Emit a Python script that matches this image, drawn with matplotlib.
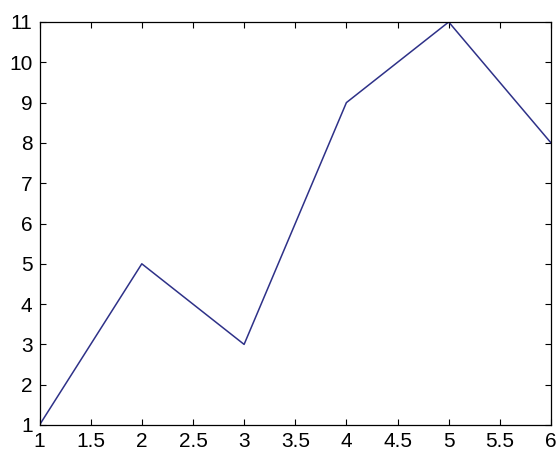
import matplotlib
matplotlib.use("Agg")
import matplotlib.pyplot as plt

x = [1, 2, 3, 4, 5, 6]
y = [1, 5, 3, 9, 11, 8]
xticks = [1, 1.5, 2, 2.5, 3, 3.5, 4, 4.5, 5, 5.5, 6]
xticklabels = ["1", "1.5", "2", "2.5", "3", "3.5", "4", "4.5", "5", "5.5", "6"]
yticks = [1, 2, 3, 4, 5, 6, 7, 8, 9, 10, 11]

plt.rcParams['font.family'] = ['Liberation Sans', 'DejaVu Sans']
fig = plt.figure(figsize=(5.59, 4.62), dpi=100)
ax = fig.add_axes([39.5/559, 1-425/462, (551-39.5)/559, (425-22)/462])
ax.plot(x, y, color='#2e3188', linewidth=1.1)
ax.set_xlim(1, 6)
ax.set_ylim(1, 11)
ax.set_xticks(xticks)
ax.set_xticklabels(xticklabels)
ax.set_yticks(yticks)
ax.tick_params(direction='in', top=True, right=True, length=4, width=0.8,
               labelsize=15, pad=5)
for s in ax.spines.values():
    s.set_linewidth(0.9)
fig.savefig('out.png', dpi=100)
